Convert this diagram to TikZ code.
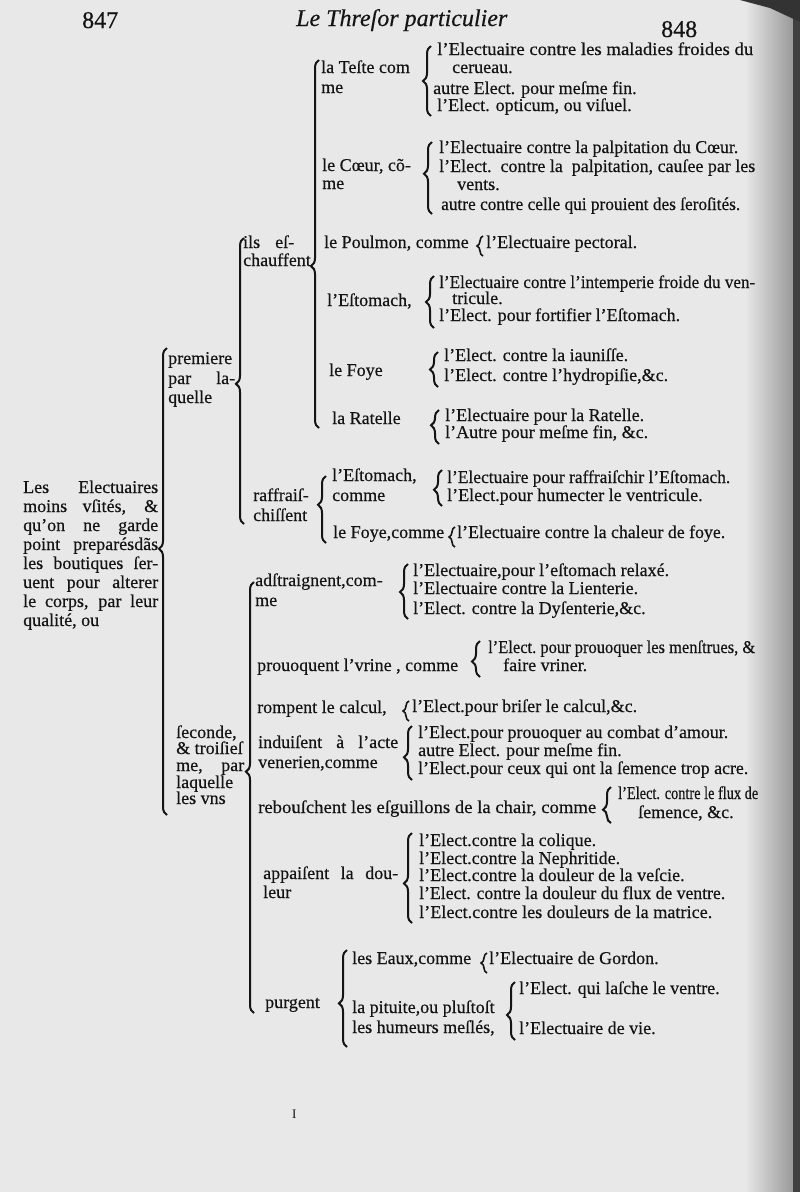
\documentclass[tikz,border=0pt]{standalone}
\usepackage{fontspec}
\usepackage{graphicx}
\setmainfont{Liberation Serif}
\newfontfamily\inkfont{Liberation Serif}[FakeBold=0.4]
\usetikzlibrary{decorations.pathreplacing}
\definecolor{paper}{gray}{0.91}
\definecolor{ink}{gray}{0.08}
\newcommand{\bodytxt}{\inkfont\fontsize{18}{19}\selectfont}
\newcommand{\headtxt}{\inkfont\fontsize{24}{24}\selectfont}
\newcommand{\jus}[2]{\makebox[#1pt][s]{#2}}
\newcommand{\fitto}[2]{\resizebox{#1pt}{\height}{#2}}

\begin{document}
\begin{tikzpicture}[x=1pt, y=-1pt]
	\tikzset{
		txt/.style={anchor=base west, inner sep=0pt, text=ink, font=\bodytxt},
		brc/.style={draw=ink, line width=2pt, decorate,
			decoration={brace, amplitude=8pt, aspect=#1}},
		brc/.default=0.5,
		sbrc/.style={draw=ink, line width=1.6pt, decorate,
			decoration={brace, amplitude=6pt}}
	}
	% page
	\useasboundingbox (0,0) rectangle (800,1192);
	\fill [paper] (0,0) rectangle (800,1192);
	\shade [left color=paper, right color=black!40] (745,0) rectangle (793,1192);
	\fill [black!75] (793,0) rectangle (800,1192);
	\fill [black!80] (740,0) -- (800,0) -- (800,22) -- (770,8) -- cycle;

	% running head
	\node [txt, font=\headtxt] (pgl) at (82,28) {847};
	\node [txt, font=\headtxt\itshape] (title) at (296,26) {Le Threſor particulier};
	\node [txt, font=\headtxt] (pgr) at (661,37) {848};

	% first column
	\node [txt] (root1) at (23,493) {\jus{135}{Les Electuaires}};
	\node [txt] (root2) at (23,512) {\jus{135}{moins vſités, \&}};
	\node [txt] (root3) at (23,531) {\jus{135}{qu’on ne garde}};
	\node [txt] (root4) at (23,550) {\jus{135}{point preparésdãs}};
	\node [txt] (root5) at (23,569) {\jus{135}{les boutiques ſer-}};
	\node [txt] (root6) at (23,588) {\jus{135}{uent pour alterer}};
	\node [txt] (root7) at (23,607) {\jus{135}{le corps, par leur}};
	\node [txt] (root8) at (23,626) {qualité, ou};

	% second column
	\node [txt] (prem1) at (168,364) {premiere};
	\node [txt] (prem2) at (168,384) {\jus{67}{par la-}};
	\node [txt] (prem3) at (168,403) {quelle};
	\node [txt] (sec1) at (176,738) {ſeconde,};
	\node [txt] (sec2) at (176,754) {\& troiſieſ};
	\node [txt] (sec3) at (176,771) {\jus{68}{me, par}};
	\node [txt] (sec4) at (176,788) {laquelle};
	\node [txt] (sec5) at (176,804) {les vns};

	% third column
	\node [txt] (esch1) at (243,248) {\jus{51}{ils eſ-}};
	\node [txt] (esch2) at (243,266) {chauffent};
	\node [txt] (rafr1) at (253,501) {raffraiſ-};
	\node [txt] (rafr2) at (253,521) {chiſſent};

	% ils eschauffent
	\node [txt] (teste1) at (321,73) {la Teſte com};
	\node [txt] (teste2) at (321,93) {me};
	\node [txt] (coeur1) at (322,171) {le Cœur, cõ-};
	\node [txt] (coeur2) at (322,189) {me};
	\node [txt] (poulm) at (324,248) {le Poulmon, comme};
	\node [txt] (estom) at (327,306) {l’Eſtomach,};
	\node [txt] (foye) at (329,376) {le Foye};
	\node [txt] (ratel) at (332,424) {la Ratelle};

	\node [txt] (teste-a) at (437,55) {\fitto{316}{l’Electuaire contre les maladies froides du}};
	\node [txt] (teste-b) at (452,73) {cerueau.};
	\node [txt] (teste-c) at (433,94) {autre Elect. pour meſme fin.};
	\node [txt] (teste-d) at (437,111) {l’Elect. opticum, ou viſuel.};
	\node [txt] (coeur-a) at (439,153) {\fitto{299}{l’Electuaire contre la palpitation du Cœur.}};
	\node [txt] (coeur-b) at (439,172) {\fitto{316}{l’Elect.\ \ contre la\ \ palpitation, cauſee par les}};
	\node [txt] (coeur-c) at (457,190) {vents.};
	\node [txt] (coeur-d) at (441,210) {\fitto{299}{autre contre celle qui prouient des ſeroſités.}};
	\node [txt] (poulm-a) at (486,248) {l’Electuaire pectoral.};
	\node [txt] (estom-a) at (439,288) {\fitto{316}{l’Electuaire contre l’intemperie froide du ven-}};
	\node [txt] (estom-b) at (452,304) {tricule.};
	\node [txt] (estom-c) at (439,321) {l’Elect. pour fortifier l’Eſtomach.};
	\node [txt] (foye-a) at (444,361) {l’Elect. contre la iauniſſe.};
	\node [txt] (foye-b) at (444,381) {l’Elect. contre l’hydropiſie,\&c.};
	\node [txt] (ratel-a) at (445,421) {l’Electuaire pour la Ratelle.};
	\node [txt] (ratel-b) at (445,438) {l’Autre pour meſme fin, \&c.};

	% raffraischissent
	\node [txt] (rEstom1) at (332,481) {l’Eſtomach,};
	\node [txt] (rEstom2) at (332,501) {comme};
	\node [txt] (rEstom-a) at (447,483) {\fitto{283}{l’Electuaire pour raffraiſchir l’Eſtomach.}};
	\node [txt] (rEstom-b) at (447,501) {l’Elect.pour humecter le ventricule.};
	\node [txt] (rFoye) at (333,538) {le Foye,comme};
	\node [txt] (rFoye-a) at (457,538) {\fitto{268}{l’Electuaire contre la chaleur de foye.}};

	% seconde & troisiesme
	\node [txt] (adstr1) at (255,586) {adſtraignent,com-};
	\node [txt] (adstr2) at (255,606) {me};
	\node [txt] (adstr-a) at (413,576) {l’Electuaire,pour l’eſtomach relaxé.};
	\node [txt] (adstr-b) at (413,594) {l’Electuaire contre la Lienterie.};
	\node [txt] (adstr-c) at (413,614) {l’Elect. contre la Dyſenterie,\&c.};
	\node [txt] (urine) at (257,671) {prouoquent l’vrine , comme};
	\node [txt] (urine-a) at (488,653) {\fitto{267}{l’Elect.\ pour prouoquer les menſtrues, \&}};
	\node [txt] (urine-b) at (503,671) {faire vriner.};
	\node [txt] (calcul) at (257,713) {rompent le calcul,};
	\node [txt] (calcul-a) at (412,712) {l’Elect.pour briſer le calcul,\&c.};
	\node [txt] (venus1) at (258,748) {\jus{140}{induiſent à l’acte}};
	\node [txt] (venus2) at (258,768) {venerien,comme};
	\node [txt] (venus-a) at (418,738) {\fitto{310}{l’Elect.pour prouoquer au combat d’amour.}};
	\node [txt] (venus-b) at (418,756) {autre Elect. pour meſme fin.};
	\node [txt] (venus-c) at (418,774) {\fitto{330}{l’Elect.pour ceux qui ont la ſemence trop acre.}};
	\node [txt] (chair) at (258,813) {\fitto{338}{rebouſchent les eſguillons de la chair, comme}};
	\node [txt] (chair-a) at (618,799) {\fitto{140}{l’Elect. contre le flux de}};
	\node [txt] (chair-b) at (638,818) {ſemence, \&c.};
	\node [txt] (doul1) at (263,879) {\jus{135}{appaiſent la dou-}};
	\node [txt] (doul2) at (263,898) {leur};
	\node [txt] (doul-a) at (419,846) {l’Elect.contre la colique.};
	\node [txt] (doul-b) at (419,864) {l’Elect.contre la Nephritide.};
	\node [txt] (doul-c) at (419,881) {l’Elect.contre la douleur de la veſcie.};
	\node [txt] (doul-d) at (419,899) {\fitto{306}{l’Elect. contre la douleur du flux de ventre.}};
	\node [txt] (doul-e) at (419,918) {\fitto{293}{l’Elect.contre les douleurs de la matrice.}};
	\node [txt] (purg) at (265,1008) {purgent};
	\node [txt] (eaux) at (352,964) {les Eaux,comme};
	\node [txt] (eaux-a) at (489,964) {l’Electuaire de Gordon.};
	\node [txt] (pit1) at (352,1013) {la pituite,ou pluſtoſt};
	\node [txt] (pit2) at (352,1033) {les humeurs meſlés,};
	\node [txt] (pit-a) at (519,994) {l’Elect. qui laſche le ventre.};
	\node [txt] (pit-b) at (519,1034) {l’Electuaire de vie.};

	\node [txt, font=\fontsize{13}{13}\selectfont] (sig) at (292,1118) {I};

	% brace ends
	\coordinate (rootT) at (167,348);   \coordinate (rootB) at (167,815);
	\coordinate (premT) at (244,238);   \coordinate (premB) at (244,524);
	\coordinate (secT) at (254,582);    \coordinate (secB) at (254,1013);
	\coordinate (eschT) at (319,60);    \coordinate (eschB) at (319,428);
	\coordinate (rafrT) at (326,476);   \coordinate (rafrB) at (326,543);
	\coordinate (testeT) at (431,46);   \coordinate (testeB) at (431,116);
	\coordinate (coeurT) at (432,142);  \coordinate (coeurB) at (432,214);
	\coordinate (poulmT) at (483,236);  \coordinate (poulmB) at (483,256);
	\coordinate (estomT) at (434,276);  \coordinate (estomB) at (434,328);
	\coordinate (foyeT) at (438,352);   \coordinate (foyeB) at (438,387);
	\coordinate (ratelT) at (439,410);  \coordinate (ratelB) at (439,444);
	\coordinate (rEstomT) at (442,470); \coordinate (rEstomB) at (442,506);
	\coordinate (rFoyeT) at (455,527);  \coordinate (rFoyeB) at (455,547);
	\coordinate (adstrT) at (408,564);  \coordinate (adstrB) at (408,619);
	\coordinate (urineT) at (480,641);  \coordinate (urineB) at (480,677);
	\coordinate (calculT) at (409,701); \coordinate (calculB) at (409,721);
	\coordinate (venusT) at (412,726);  \coordinate (venusB) at (412,780);
	\coordinate (chairT) at (611,787);  \coordinate (chairB) at (611,823);
	\coordinate (doulT) at (412,833);   \coordinate (doulB) at (412,923);
	\coordinate (purgT) at (347,950);   \coordinate (purgB) at (347,1047);
	\coordinate (eauxT) at (487,953);   \coordinate (eauxB) at (487,973);
	\coordinate (pitT) at (515,982);    \coordinate (pitB) at (515,1040);

	% braces
	\draw [brc=0.57] (rootB) -- (rootT);
	\draw [brc=0.49] (premB) -- (premT);
	\draw [brc=0.56] (secB) -- (secT);
	\draw [brc=0.44] (eschB) -- (eschT);
	\draw [brc=0.57] (rafrB) -- (rafrT);
	\draw [brc] (testeB) -- (testeT);
	\draw [brc=0.56] (coeurB) -- (coeurT);
	\draw [sbrc] (poulmB) -- (poulmT);
	\draw [brc] (estomB) -- (estomT);
	\draw [brc] (foyeB) -- (foyeT);
	\draw [brc=0.55] (ratelB) -- (ratelT);
	\draw [brc=0.45] (rEstomB) -- (rEstomT);
	\draw [sbrc] (rFoyeB) -- (rFoyeT);
	\draw [brc=0.49] (adstrB) -- (adstrT);
	\draw [brc=0.43] (urineB) -- (urineT);
	\draw [sbrc] (calculB) -- (calculT);
	\draw [brc=0.42] (venusB) -- (venusT);
	\draw [brc=0.37] (chairB) -- (chairT);
	\draw [brc=0.44] (doulB) -- (doulT);
	\draw [brc=0.45] (purgB) -- (purgT);
	\draw [sbrc] (eauxB) -- (eauxT);
	\draw [brc=0.43] (pitB) -- (pitT);
\end{tikzpicture}
\end{document}
